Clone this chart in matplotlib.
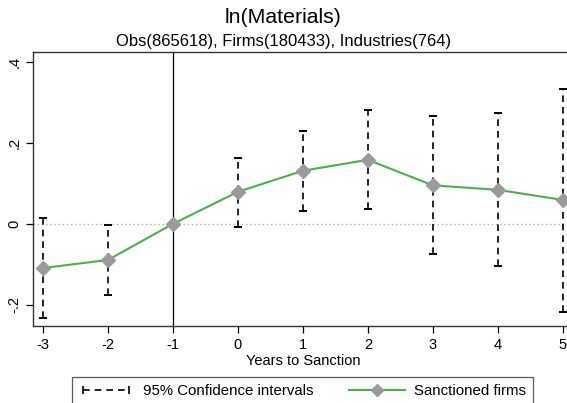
import numpy as np
import matplotlib
matplotlib.use("Agg")
import matplotlib.pyplot as plt
from matplotlib.lines import Line2D
from matplotlib.legend_handler import HandlerLine2D

plt.rcParams['font.family'] = ['Liberation Sans', 'DejaVu Sans']
plt.rcParams['axes.unicode_minus'] = False

# event-study estimates
years = [-3, -2, -1, 0, 1, 2, 3, 4, 5]
coef = [-0.109, -0.089, 0.0, 0.079, 0.131, 0.158, 0.095, 0.084, 0.059]
ci_low = [-0.232, -0.175, np.nan, -0.007, 0.032, 0.036, -0.075, -0.105, -0.218]
ci_high = [0.015, -0.002, np.nan, 0.163, 0.230, 0.281, 0.267, 0.273, 0.333]
y_ticks = [-0.2, 0.0, 0.2, 0.4]
y_tick_labels = ['-.2', '0', '.2', '.4']

green = '#4caf50'
marker_gray = '#9a9a9a'

fig = plt.figure(figsize=(5.67, 4.03), dpi=100)
ax = fig.add_axes([0.0582, 0.19, 0.952, 0.68])

# reference lines
ax.axhline(0, color='#b0b0b0', lw=1.0, ls=(0, (1, 2)), zorder=1)
ax.axvline(-1, color='black', lw=0.9, zorder=1)

# confidence intervals: dashed vertical lines with caps
for x, lo, hi in zip(years, ci_low, ci_high):
    if np.isnan(lo):
        continue
    ax.plot([x, x], [lo, hi], color='black', lw=1.2, ls=(0, (4, 3)), zorder=2)
    ax.plot([x, x], [lo, hi], ls='none', marker='_', ms=6, mew=1.4,
            color='black', zorder=2)

ax.plot(years, coef, color=green, lw=1.5, marker='D', ms=7,
        mfc=marker_gray, mec=marker_gray, zorder=3)

ax.set_xlim(-3.154, 5.154)
ax.set_ylim(-0.253, 0.423)
ax.set_xticks(years)
ax.set_yticks(y_ticks)
ax.set_yticklabels(y_tick_labels, rotation=90, va='center')
ax.tick_params(axis='both', direction='out', length=5, width=0.9,
               labelsize=10.5, colors='black')
for s in ax.spines.values():
    s.set_linewidth(1.0)
    s.set_color('#333333')
ax.set_xlabel('Years to Sanction', fontsize=10.5, labelpad=1)

fig.text(0.5, 0.957, 'ln(Materials)', ha='center', va='center', fontsize=15.3)
fig.text(0.5, 0.898, 'Obs(865618), Firms(180433), Industries(764)',
         ha='center', va='center', fontsize=12)

ci_handle = Line2D([], [], color='black', lw=1.2, ls=(0, (4, 3)),
                   marker='|', ms=6, mew=1.2)
est_handle = Line2D([], [], color=green, lw=1.5, marker='D', ms=6.5,
                    mfc=marker_gray, mec=marker_gray)
leg = fig.legend([ci_handle, est_handle],
                 ['95% Confidence intervals', 'Sanctioned firms'],
                 handler_map={ci_handle: HandlerLine2D(numpoints=2),
                              est_handle: HandlerLine2D(numpoints=1)},
                 loc='upper left', bbox_to_anchor=(71.5 / 567, 1 - 377 / 403),
                 ncol=2, fontsize=10.8, frameon=True, fancybox=False,
                 handlelength=3.7, handletextpad=0.6, columnspacing=2.4,
                 borderpad=0.45, borderaxespad=0)
leg.get_frame().set_edgecolor('#333333')
leg.get_frame().set_linewidth(0.9)

fig.savefig('out.png', dpi=100)
